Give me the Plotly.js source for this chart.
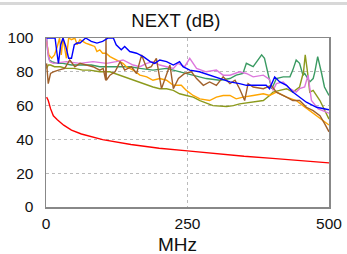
<!DOCTYPE html>
<html><head><meta charset="utf-8">
<script src="https://cdn.plot.ly/plotly-3.0.1.min.js"></script>
<style>html,body{margin:0;padding:0;background:#fff;overflow:hidden}#topbar{position:absolute;left:0;top:2px;width:347px;height:3px;background:#d8d8d8;z-index:5}</style>
</head><body>
<div id="topbar"></div>
<div id="chart" style="width:347px;height:254px"></div>
<script>
const xTicks = [0, 250, 500];
const yTicks = [0, 20, 40, 60, 80, 100];

const limitF = [1, 2, 4, 8, 10, 13, 16, 20, 31.25, 45, 62.5, 80, 100, 150, 200, 250, 300, 350, 400, 450, 500];
const limitV = [65, 64.5, 63, 58.2, 56.6, 54, 53, 51.6, 48.4, 45.5, 43.2, 41.5, 39.9, 37, 34.8, 33.2, 31.5, 30, 28.8, 27.4, 26.1];

const blueF = [1, 5, 14, 16, 19, 22, 26, 30, 35, 40, 45, 50, 55, 60, 70, 80, 90, 100, 110, 119, 124, 133, 139, 148, 160, 172, 184, 192, 201, 213, 225, 236, 242, 254, 271, 289, 307, 325, 342, 354, 372, 389, 395, 404, 413, 425, 436, 448, 460, 478, 500];
const blueV = [100, 100, 100, 100, 92, 85, 96, 100, 95, 88, 88, 96, 97, 97, 100, 98, 97, 98, 100, 100, 96, 93, 95, 92, 91, 89, 86, 85, 87, 86, 84, 86, 83, 81, 80, 78, 76, 74, 73, 72, 72, 72, 70, 77, 74, 72, 68, 65, 62, 59, 57.5];

const orangeF = [1, 5, 10, 15, 20, 24, 27, 30, 36, 40, 45, 51, 55, 60, 65, 70, 78, 86, 90, 95, 100, 106, 113, 124, 136, 142, 154, 166, 178, 189, 201, 213, 225, 239, 248, 260, 272, 289, 301, 313, 325, 336, 348, 366, 384, 395, 407, 425, 442, 454, 466, 478, 489, 500];
const orangeV = [98, 90, 88, 90, 95, 100, 90, 100, 88, 100, 99, 100, 96, 99, 98, 97, 96, 95, 92, 93, 91, 91, 89, 87, 85, 83, 81, 78, 77, 75, 76, 75, 72, 72, 69, 66, 64, 63, 65, 66, 66, 64, 65, 66, 67, 66, 68, 65, 63, 60, 57, 54, 51, 48.5];

const greenF = [1, 3, 6, 10, 20, 30, 45, 60, 80, 95, 110, 130, 148, 166, 189, 213, 236, 260, 283, 307, 325, 336, 348, 354, 366, 381, 386, 395, 399, 407, 419, 431, 436, 442, 448, 454, 457, 466, 472, 475, 480, 487, 492, 500];
const greenV = [100, 92, 87, 86, 85, 85, 84, 84, 84, 83, 83, 83, 83, 82, 81, 82, 80, 78, 76, 75, 76, 78, 79, 85, 83, 90, 88, 75, 70, 76, 77, 77, 81, 87, 85, 78, 79, 74, 76, 80, 89, 79, 71, 66];

const oliveF = [1, 4, 8, 15, 25, 36, 50, 65, 77, 95, 113, 130, 154, 172, 189, 201, 213, 225, 236, 248, 260, 272, 295, 319, 331, 342, 360, 384, 395, 401, 413, 425, 436, 448, 455, 458, 462, 466, 472, 484, 500];
const oliveV = [82, 84, 84, 83, 83, 82, 82, 81, 81, 80, 80, 78, 75, 73, 71, 70, 70, 69, 67, 66, 65, 63, 60, 59.5, 60, 61, 62, 63, 66, 68, 69, 70, 68, 71, 80, 90, 80, 68, 69, 63, 52];

const pinkF = [1, 4, 7, 13, 36, 60, 83, 107, 124, 136, 154, 166, 178, 189, 201, 213, 225, 233, 245, 254, 266, 283, 301, 313, 325, 342, 354, 366, 384, 395, 401, 407, 419, 431, 442, 448, 457, 463, 469, 481, 490, 500];
const pinkV = [100, 89, 86, 85, 86, 85, 86, 85, 86, 87, 84, 83, 85, 86, 84, 83, 82, 85, 83, 88, 82, 80, 81, 78, 78, 80, 79, 77, 78, 75.5, 69, 73, 74, 70, 68, 70, 71, 78, 63, 58, 57, 55.5];

const brownF = [1, 2, 4, 8, 13, 22, 33, 42, 51, 60, 72, 83, 95, 101, 105.5, 106, 106.5, 113, 122, 131, 139, 151, 160, 169, 178, 186, 195, 204, 213, 219, 225, 234, 245, 257, 266, 278, 289, 301, 313, 325, 334, 342, 351, 357, 366, 384, 398, 407, 425, 436, 448, 460, 472, 484, 492, 500];
const brownV = [85, 80, 73, 79, 80, 81, 82, 87, 83, 85, 84, 83, 81, 82, 75, 100, 75, 78, 80, 86, 81, 83, 79, 90, 82, 83, 88, 70, 79, 84, 70, 76, 79, 80, 76, 72, 74, 72, 77, 73, 75, 70, 63, 73, 71, 70, 72, 68, 65, 63, 63, 59, 57, 54, 49.5, 44.5];

function tr(x, y, color) {
  return {x: x, y: y, type: 'scatter', mode: 'lines', line: {color: color, width: 1.4}, hoverinfo: 'skip'};
}
const data = [
  tr(greenF, greenV, '#3a9a62'),
  tr(oliveF, oliveV, '#8c9a1c'),
  tr(orangeF, orangeV, '#ffa500'),
  tr(pinkF, pinkV, '#dd77dd'),
  tr(brownF, brownV, '#a0602a'),
  tr(blueF, blueV, '#0000ff'),
  tr(limitF, limitV, '#ff0000')
];
const font = {family: 'Liberation Sans, Arial, sans-serif', color: '#111'};
const layout = {
  width: 347, height: 254,
  margin: {l: 46, r: 18, t: 38, b: 47},
  paper_bgcolor: '#fff', plot_bgcolor: '#fff',
  showlegend: false,
  font: font,
  title: {text: 'NEXT (dB)', font: {size: 18.5, family: font.family, color: '#111'}, x: 0.507, xanchor: 'center', y: 0.92, yanchor: 'middle'},
  xaxis: {
    range: [0, 500], tickvals: xTicks, ticktext: xTicks.map(String),
    showgrid: true, gridcolor: '#bbbbbb', griddash: 'dot', gridwidth: 1,
    zeroline: false, showline: true, mirror: true, linecolor: '#888', linewidth: 1.5,
    ticks: '', tickfont: {size: 15.5}, ticklabelstandoff: 2
  },
  yaxis: {
    range: [0, 100], tickvals: yTicks, ticktext: yTicks.map(String),
    showgrid: true, gridcolor: '#bbbbbb', griddash: 'dot', gridwidth: 1,
    zeroline: false, showline: true, mirror: true, linecolor: '#888', linewidth: 1.5,
    ticks: '', tickfont: {size: 15.5}, ticklabelstandoff: 8
  },
  annotations: [{
    text: 'MHz', xref: 'paper', yref: 'paper', x: 0.463, y: -0.222,
    xanchor: 'center', yanchor: 'middle', showarrow: false,
    font: {size: 19, family: font.family, color: '#111'}
  }]
};
Plotly.newPlot('chart', data, layout, {staticPlot: true, displayModeBar: false});
</script>
</body></html>
